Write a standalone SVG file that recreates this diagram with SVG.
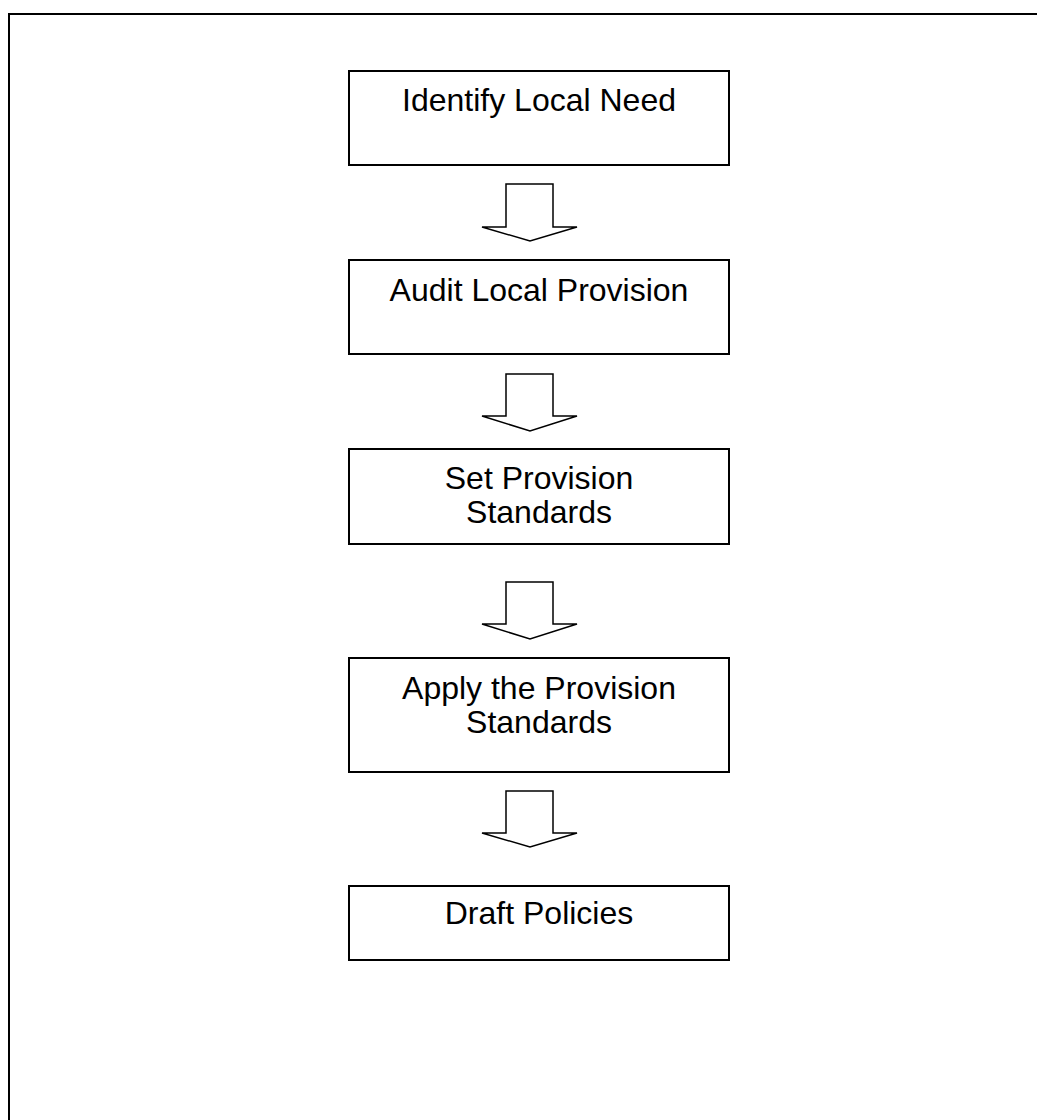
<svg xmlns="http://www.w3.org/2000/svg" width="1037" height="1120" viewBox="0 0 1037 1120">
<style>
.box{fill:#fff;stroke:#000;stroke-width:2}
.arr{fill:#fff;stroke:#000;stroke-width:1.5;stroke-linejoin:miter}
.t{font-family:"Liberation Sans",Arial,sans-serif;font-size:32px;fill:#000;text-anchor:middle}
</style>
<rect x="0" y="0" width="1037" height="1120" fill="#fff"/>
<rect id="frame" x="9" y="14" width="1040" height="1120" fill="none" stroke="#000" stroke-width="2"/>
<g id="connectors">
<polygon class="arr" points="506,184 553,184 553,227 577,227 530,241 482,227 506,227"/>
<polygon class="arr" points="506,374 553,374 553,416 577,416 530,431 482,416 506,416"/>
<polygon class="arr" points="506,582 553,582 553,624 577,624 530,639 482,624 506,624"/>
<polygon class="arr" points="506,791 553,791 553,833 577,833 530,847 482,833 506,833"/>
</g>
<g id="n1"><rect class="box" x="349" y="71" width="380" height="94"/><text class="t" x="539" y="111">Identify Local Need</text></g>
<g id="n2"><rect class="box" x="349" y="260" width="380" height="94"/><text class="t" x="539" y="301">Audit Local Provision</text></g>
<g id="n3"><rect class="box" x="349" y="449" width="380" height="95"/><text class="t" x="539" y="489">Set Provision</text><text class="t" x="539" y="523">Standards</text></g>
<g id="n4"><rect class="box" x="349" y="658" width="380" height="114"/><text class="t" x="539" y="699">Apply the Provision</text><text class="t" x="539" y="733">Standards</text></g>
<g id="n5"><rect class="box" x="349" y="886" width="380" height="74"/><text class="t" x="539" y="924">Draft Policies</text></g>
</svg>
